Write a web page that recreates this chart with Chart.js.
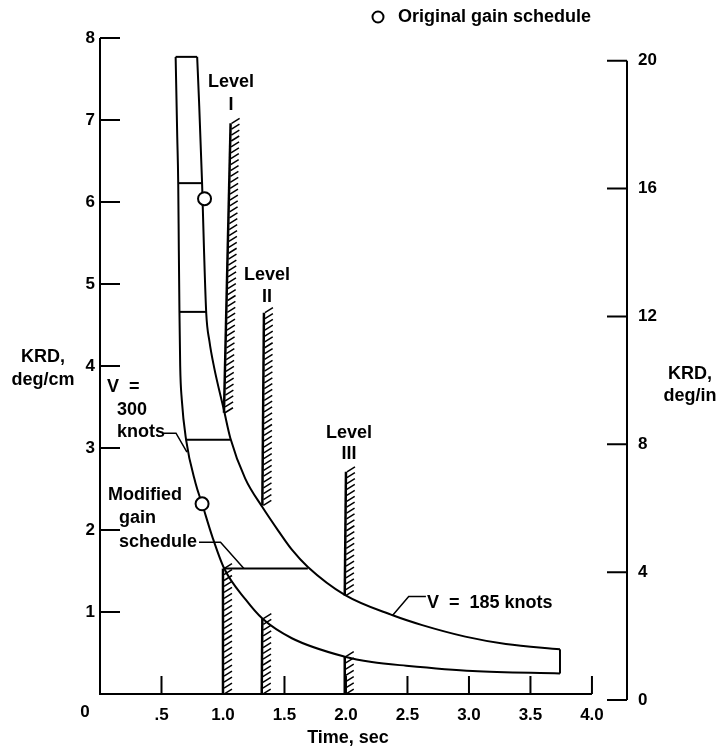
<!DOCTYPE html>
<html>
<head>
<meta charset="utf-8">
<script src="https://cdn.jsdelivr.net/npm/chart.js@4.4.1/dist/chart.umd.min.js"></script>
<style>
  html, body { margin: 0; padding: 0; background: #fff; }
  canvas { display: block; }
</style>
</head>
<body>
<canvas id="gainChart" width="720" height="753"></canvas>
<script>
// tick values
const timeTicks = [0.5, 1.0, 1.5, 2.0, 2.5, 3.0, 3.5, 4.0];
const timeTickLabels = ['.5', '1.0', '1.5', '2.0', '2.5', '3.0', '3.5', '4.0'];
const cmTicks = [1, 2, 3, 4, 5, 6, 7, 8];
const inTicks = [0, 4, 8, 12, 16, 20];

// V = 185 knots boundary
const upperTime = [0.79, 0.805, 0.83, 0.845, 0.864, 0.89, 0.927, 1.008, 1.06, 1.18, 1.32, 1.45, 1.56, 1.69, 1.99, 2.38, 2.62, 2.97, 3.30, 3.74];
const upperKrd = [7.77, 7.24, 6.23, 5.45, 4.64, 4.30, 3.99, 3.46, 3.12, 2.63, 2.28, 1.99, 1.76, 1.55, 1.21, 0.96, 0.84, 0.70, 0.61, 0.545];

// V = 300 knots boundary
const lowerTime = [0.615, 0.628, 0.636, 0.641, 0.646, 0.652, 0.665, 0.70, 0.777, 0.83, 0.913, 1.01, 1.185, 1.32, 1.56, 1.99, 2.21, 2.49, 3.03, 3.74];
const lowerKrd = [7.77, 6.8, 6.23, 5.41, 4.66, 4.0, 3.59, 3.10, 2.57, 2.32, 1.92, 1.53, 1.15, 0.92, 0.68, 0.455, 0.39, 0.345, 0.28, 0.25];

// gain schedule steps
const stepKrd = [6.23, 4.66, 3.10, 1.53];
const stepFrom = [0.636, 0.646, 0.70, 1.01];
const stepTo = [0.83, 0.864, 1.06, 1.69];

// original gain schedule points
const originalTime = [0.85, 0.83];
const originalKrd = [6.04, 2.32];

// hatched level boundaries, one entry per piece
const levelTimeBottom = [1.0, 1.008, 1.315, 1.32, 1.99, 1.99];
const levelTimeTop = [1.0, 1.062, 1.32, 1.333, 1.99, 2.0];
const levelKrdBottom = [0, 3.43, 0, 2.3, 0, 1.2];
const levelKrdTop = [1.53, 6.96, 0.92, 4.65, 0.455, 2.71];

// label leaders
const leader300Time = [0.52, 0.618, 0.707];
const leader300Krd = [3.18, 3.18, 2.95];
const leaderModTime = [0.805, 0.98, 1.17];
const leaderModKrd = [1.85, 1.85, 1.53];
const leader185Time = [2.65, 2.51, 2.38];
const leader185Krd = [1.19, 1.19, 0.96];

const FONT = '"Liberation Sans", Arial, Helvetica, sans-serif';

function seg(xs, ys, extra) {
    return Object.assign({
        data: xs.map((x, i) => ({ x: x, y: ys[i] })),
        showLine: true,
        borderColor: '#000',
        borderWidth: 2,
        pointRadius: 0,
        pointHoverRadius: 0,
        fill: false,
        tension: 0,
        order: 1
    }, extra || {});
}

const datasets = [];
datasets.push({
    label: 'Original gain schedule',
    data: originalTime.map((x, i) => ({ x: x, y: originalKrd[i] })),
    showLine: false,
    pointRadius: 6.5,
    pointBackgroundColor: '#fff',
    pointBorderColor: '#000',
    pointBorderWidth: 2,
    order: 0
});
datasets.push(seg(upperTime, upperKrd, { cubicInterpolationMode: 'monotone' }));
datasets.push(seg(lowerTime, lowerKrd, { cubicInterpolationMode: 'monotone' }));
// top and end caps of the band
datasets.push(seg([lowerTime[0], upperTime[0]], [lowerKrd[0], upperKrd[0]]));
datasets.push(seg([lowerTime[lowerTime.length - 1], upperTime[upperTime.length - 1]],
    [lowerKrd[lowerKrd.length - 1], upperKrd[upperKrd.length - 1]]));
stepKrd.forEach((k, i) => datasets.push(seg([stepFrom[i], stepTo[i]], [k, k])));
levelKrdTop.forEach((k, i) => datasets.push(seg([levelTimeBottom[i], levelTimeTop[i]], [levelKrdBottom[i], k], { borderWidth: 2.5 })));
datasets.push(seg(leader300Time, leader300Krd, { borderWidth: 1.5 }));
datasets.push(seg(leaderModTime, leaderModKrd, { borderWidth: 1.5 }));
datasets.push(seg(leader185Time, leader185Krd, { borderWidth: 1.5 }));

const tickFont = { family: FONT, size: 17, weight: 'bold' };

// axes, ticks, hatching and labels
const decorPlugin = {
    id: 'decor',
    afterDatasetsDraw(chart) {
        const ctx = chart.ctx;
        const xs = chart.scales.x, ys = chart.scales.y, rs = chart.scales.y2;
        ctx.save();
        ctx.strokeStyle = '#000';
        ctx.lineWidth = 1.5;
        ctx.beginPath();
        levelKrdTop.forEach((k, i) => {
            const xb = xs.getPixelForValue(levelTimeBottom[i]), yb = ys.getPixelForValue(levelKrdBottom[i]);
            const xt = xs.getPixelForValue(levelTimeTop[i]), yt = ys.getPixelForValue(k);
            const n = Math.floor((yb - yt) / 5.8);
            for (let j = 0; j <= n; j++) {
                const f = j / n;
                const px = xb + (xt - xb) * f, py = yb + (yt - yb) * f;
                ctx.moveTo(px + 1, py);
                ctx.lineTo(px + 9, py - 5);
            }
        });
        ctx.stroke();

        // axes
        const x0 = xs.getPixelForValue(0), y0 = ys.getPixelForValue(0);
        const xr = chart.chartArea.right;
        ctx.lineWidth = 2;
        ctx.beginPath();
        ctx.moveTo(x0, ys.getPixelForValue(8));
        ctx.lineTo(x0, y0);
        ctx.lineTo(xs.getPixelForValue(4), y0);
        ctx.moveTo(xr, rs.getPixelForValue(20));
        ctx.lineTo(xr, rs.getPixelForValue(0));
        cmTicks.forEach(v => {
            const py = ys.getPixelForValue(v);
            ctx.moveTo(x0, py);
            ctx.lineTo(x0 + 20, py);
        });
        timeTicks.forEach(v => {
            const px = xs.getPixelForValue(v);
            ctx.moveTo(px, y0);
            ctx.lineTo(px, y0 - 18);
        });
        inTicks.forEach(v => {
            const py = rs.getPixelForValue(v);
            ctx.moveTo(xr, py);
            ctx.lineTo(xr - 20, py);
        });
        ctx.stroke();

        // text
        ctx.fillStyle = '#000';
        ctx.textBaseline = 'middle';
        ctx.font = 'bold 17px ' + FONT;
        ctx.textAlign = 'center';
        ctx.fillText('0', x0 - 15, 712);

        ctx.font = 'bold 18px ' + FONT;
        [
            ['Level', 231, 82], ['I', 231, 105],
            ['Level', 267, 275], ['II', 267, 297],
            ['Level', 349, 433], ['III', 349, 454],
            ['KRD,', 43, 357], ['deg/cm', 43, 380],
            ['KRD,', 690, 374], ['deg/in', 690, 396],
            ['Time, sec', 348, 738]
        ].forEach(t => ctx.fillText(t[0], t[1], t[2]));

        ctx.textAlign = 'left';
        [
            ['V  =', 107, 387], ['300', 117, 410], ['knots', 117, 432],
            ['Modified', 108, 495], ['gain', 119, 518], ['schedule', 119, 542],
            ['V  =  185 knots', 427, 603],
            ['Original gain schedule', 398, 17]
        ].forEach(t => ctx.fillText(t[0], t[1], t[2]));

        // legend symbol
        ctx.beginPath();
        ctx.arc(378, 17, 5.5, 0, Math.PI * 2);
        ctx.fillStyle = '#fff';
        ctx.fill();
        ctx.lineWidth = 2;
        ctx.stroke();
        ctx.restore();
    }
};

new Chart(document.getElementById('gainChart').getContext('2d'), {
    type: 'scatter',
    data: { datasets: datasets },
    options: {
        responsive: false,
        animation: false,
        devicePixelRatio: 1,
        layout: { padding: { top: 38, left: 0, right: 0, bottom: 0 } },
        plugins: {
            legend: { display: false },
            tooltip: { enabled: false }
        },
        scales: {
            x: {
                type: 'linear',
                min: 0,
                max: 4.285,
                grid: { display: false, drawTicks: false },
                border: { display: false },
                ticks: {
                    color: '#000',
                    font: tickFont,
                    padding: 5,
                    maxRotation: 0,
                    autoSkip: false,
                    callback: (value, index) => timeTickLabels[index]
                },
                afterBuildTicks: scale => { scale.ticks = timeTicks.map(v => ({ value: v })); },
                afterFit: scale => { scale.height = 53; }
            },
            y: {
                type: 'linear',
                position: 'left',
                min: -0.073,
                max: 8,
                grid: { display: false, drawTicks: false },
                border: { display: false },
                ticks: { color: '#000', font: tickFont, padding: 5 },
                afterBuildTicks: scale => { scale.ticks = cmTicks.map(v => ({ value: v })); },
                afterFit: scale => { scale.width = 100; }
            },
            y2: {
                type: 'linear',
                position: 'right',
                min: 0,
                max: 20.71,
                grid: { display: false, drawTicks: false },
                border: { display: false },
                ticks: { color: '#000', font: tickFont, padding: 11 },
                afterBuildTicks: scale => { scale.ticks = inTicks.map(v => ({ value: v })); },
                afterFit: scale => { scale.width = 93; }
            }
        }
    },
    plugins: [decorPlugin]
});
</script>
</body>
</html>
